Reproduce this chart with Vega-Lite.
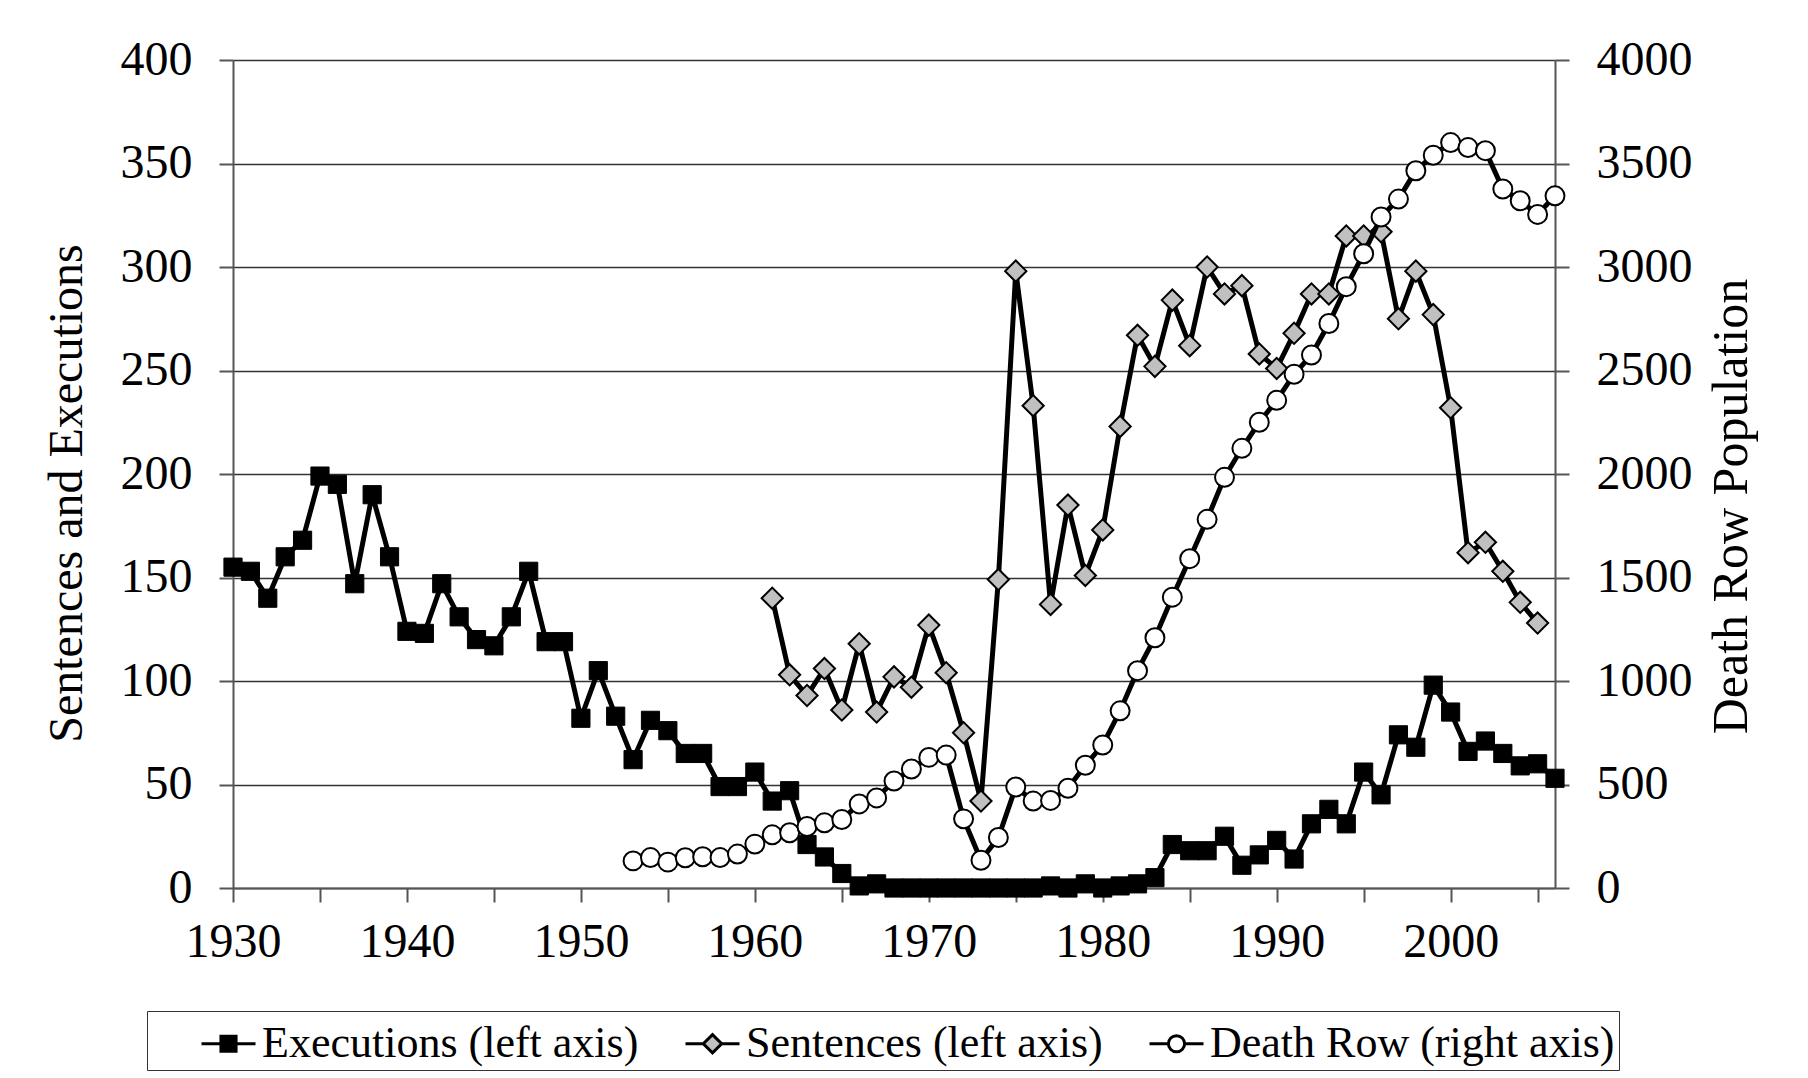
{
  "$schema": "https://vega.github.io/schema/vega-lite/v6.json",
  "width": 1322,
  "height": 828,
  "autosize": {"type": "none"},
  "padding": {"left": 233, "top": 60, "right": 253, "bottom": 190},
  "background": "white",
  "config": {
    "font": "Liberation Serif",
    "view": {"stroke": null},
    "axis": {"labelFont": "Liberation Serif", "titleFont": "Liberation Serif", "labelColor": "black", "titleColor": "black", "titleFontWeight": "normal", "labelFontSize": 48, "titleFontSize": 48, "domainColor": "#555555", "domainWidth": 2, "tickColor": "#555555", "tickWidth": 2, "tickSize": 14}
  },
  "data": {"values": [
    {"year":1930,"series":"Executions","value":155},{"year":1931,"series":"Executions","value":153},{"year":1932,"series":"Executions","value":140},{"year":1933,"series":"Executions","value":160},{"year":1934,"series":"Executions","value":168},{"year":1935,"series":"Executions","value":199},{"year":1936,"series":"Executions","value":195},{"year":1937,"series":"Executions","value":147},{"year":1938,"series":"Executions","value":190},{"year":1939,"series":"Executions","value":160},
    {"year":1940,"series":"Executions","value":124},{"year":1941,"series":"Executions","value":123},{"year":1942,"series":"Executions","value":147},{"year":1943,"series":"Executions","value":131},{"year":1944,"series":"Executions","value":120},{"year":1945,"series":"Executions","value":117},{"year":1946,"series":"Executions","value":131},{"year":1947,"series":"Executions","value":153},{"year":1948,"series":"Executions","value":119},{"year":1949,"series":"Executions","value":119},
    {"year":1950,"series":"Executions","value":82},{"year":1951,"series":"Executions","value":105},{"year":1952,"series":"Executions","value":83},{"year":1953,"series":"Executions","value":62},{"year":1954,"series":"Executions","value":81},{"year":1955,"series":"Executions","value":76},{"year":1956,"series":"Executions","value":65},{"year":1957,"series":"Executions","value":65},{"year":1958,"series":"Executions","value":49},{"year":1959,"series":"Executions","value":49},
    {"year":1960,"series":"Executions","value":56},{"year":1961,"series":"Executions","value":42},{"year":1962,"series":"Executions","value":47},{"year":1963,"series":"Executions","value":21},{"year":1964,"series":"Executions","value":15},{"year":1965,"series":"Executions","value":7},{"year":1966,"series":"Executions","value":1},{"year":1967,"series":"Executions","value":2},{"year":1968,"series":"Executions","value":0},{"year":1969,"series":"Executions","value":0},
    {"year":1970,"series":"Executions","value":0},{"year":1971,"series":"Executions","value":0},{"year":1972,"series":"Executions","value":0},{"year":1973,"series":"Executions","value":0},{"year":1974,"series":"Executions","value":0},{"year":1975,"series":"Executions","value":0},{"year":1976,"series":"Executions","value":0},{"year":1977,"series":"Executions","value":1},{"year":1978,"series":"Executions","value":0},{"year":1979,"series":"Executions","value":2},
    {"year":1980,"series":"Executions","value":0},{"year":1981,"series":"Executions","value":1},{"year":1982,"series":"Executions","value":2},{"year":1983,"series":"Executions","value":5},{"year":1984,"series":"Executions","value":21},{"year":1985,"series":"Executions","value":18},{"year":1986,"series":"Executions","value":18},{"year":1987,"series":"Executions","value":25},{"year":1988,"series":"Executions","value":11},{"year":1989,"series":"Executions","value":16},
    {"year":1990,"series":"Executions","value":23},{"year":1991,"series":"Executions","value":14},{"year":1992,"series":"Executions","value":31},{"year":1993,"series":"Executions","value":38},{"year":1994,"series":"Executions","value":31},{"year":1995,"series":"Executions","value":56},{"year":1996,"series":"Executions","value":45},{"year":1997,"series":"Executions","value":74},{"year":1998,"series":"Executions","value":68},{"year":1999,"series":"Executions","value":98},
    {"year":2000,"series":"Executions","value":85},{"year":2001,"series":"Executions","value":66},{"year":2002,"series":"Executions","value":71},{"year":2003,"series":"Executions","value":65},{"year":2004,"series":"Executions","value":59},{"year":2005,"series":"Executions","value":60},{"year":2006,"series":"Executions","value":53},
    {"year":1961,"series":"Sentences","value":140},{"year":1962,"series":"Sentences","value":103},{"year":1963,"series":"Sentences","value":93},{"year":1964,"series":"Sentences","value":106},{"year":1965,"series":"Sentences","value":86},{"year":1966,"series":"Sentences","value":118},{"year":1967,"series":"Sentences","value":85},{"year":1968,"series":"Sentences","value":102},{"year":1969,"series":"Sentences","value":97},
    {"year":1970,"series":"Sentences","value":127},{"year":1971,"series":"Sentences","value":104},{"year":1972,"series":"Sentences","value":75},{"year":1973,"series":"Sentences","value":42},{"year":1974,"series":"Sentences","value":149},{"year":1975,"series":"Sentences","value":298},{"year":1976,"series":"Sentences","value":233},{"year":1977,"series":"Sentences","value":137},{"year":1978,"series":"Sentences","value":185},{"year":1979,"series":"Sentences","value":151},
    {"year":1980,"series":"Sentences","value":173},{"year":1981,"series":"Sentences","value":223},{"year":1982,"series":"Sentences","value":267},{"year":1983,"series":"Sentences","value":252},{"year":1984,"series":"Sentences","value":284},{"year":1985,"series":"Sentences","value":262},{"year":1986,"series":"Sentences","value":300},{"year":1987,"series":"Sentences","value":287},{"year":1988,"series":"Sentences","value":291},{"year":1989,"series":"Sentences","value":258},
    {"year":1990,"series":"Sentences","value":251},{"year":1991,"series":"Sentences","value":268},{"year":1992,"series":"Sentences","value":287},{"year":1993,"series":"Sentences","value":287},{"year":1994,"series":"Sentences","value":315},{"year":1995,"series":"Sentences","value":315},{"year":1996,"series":"Sentences","value":317},{"year":1997,"series":"Sentences","value":275},{"year":1998,"series":"Sentences","value":298},{"year":1999,"series":"Sentences","value":277},
    {"year":2000,"series":"Sentences","value":232},{"year":2001,"series":"Sentences","value":162},{"year":2002,"series":"Sentences","value":167},{"year":2003,"series":"Sentences","value":153},{"year":2004,"series":"Sentences","value":138},{"year":2005,"series":"Sentences","value":128},
    {"year":1953,"series":"Death Row","value":131},{"year":1954,"series":"Death Row","value":147},{"year":1955,"series":"Death Row","value":125},{"year":1956,"series":"Death Row","value":146},{"year":1957,"series":"Death Row","value":151},{"year":1958,"series":"Death Row","value":147},{"year":1959,"series":"Death Row","value":164},
    {"year":1960,"series":"Death Row","value":212},{"year":1961,"series":"Death Row","value":257},{"year":1962,"series":"Death Row","value":267},{"year":1963,"series":"Death Row","value":297},{"year":1964,"series":"Death Row","value":315},{"year":1965,"series":"Death Row","value":331},{"year":1966,"series":"Death Row","value":406},{"year":1967,"series":"Death Row","value":435},{"year":1968,"series":"Death Row","value":517},{"year":1969,"series":"Death Row","value":575},
    {"year":1970,"series":"Death Row","value":631},{"year":1971,"series":"Death Row","value":642},{"year":1972,"series":"Death Row","value":334},{"year":1973,"series":"Death Row","value":134},{"year":1974,"series":"Death Row","value":244},{"year":1975,"series":"Death Row","value":488},{"year":1976,"series":"Death Row","value":420},{"year":1977,"series":"Death Row","value":423},{"year":1978,"series":"Death Row","value":482},{"year":1979,"series":"Death Row","value":593},
    {"year":1980,"series":"Death Row","value":691},{"year":1981,"series":"Death Row","value":856},{"year":1982,"series":"Death Row","value":1050},{"year":1983,"series":"Death Row","value":1209},{"year":1984,"series":"Death Row","value":1405},{"year":1985,"series":"Death Row","value":1591},{"year":1986,"series":"Death Row","value":1781},{"year":1987,"series":"Death Row","value":1984},{"year":1988,"series":"Death Row","value":2124},{"year":1989,"series":"Death Row","value":2250},
    {"year":1990,"series":"Death Row","value":2356},{"year":1991,"series":"Death Row","value":2482},{"year":1992,"series":"Death Row","value":2575},{"year":1993,"series":"Death Row","value":2727},{"year":1994,"series":"Death Row","value":2905},{"year":1995,"series":"Death Row","value":3064},{"year":1996,"series":"Death Row","value":3242},{"year":1997,"series":"Death Row","value":3328},{"year":1998,"series":"Death Row","value":3465},{"year":1999,"series":"Death Row","value":3540},
    {"year":2000,"series":"Death Row","value":3601},{"year":2001,"series":"Death Row","value":3577},{"year":2002,"series":"Death Row","value":3562},{"year":2003,"series":"Death Row","value":3377},{"year":2004,"series":"Death Row","value":3320},{"year":2005,"series":"Death Row","value":3254},{"year":2006,"series":"Death Row","value":3344}
  ]},
  "encoding": {
    "x": {
      "field": "year", "type": "quantitative",
      "scale": {"domain": [1930, 2006], "nice": false, "zero": false},
      "axis": {
        "title": null, "grid": false,
        "values": [1930,1935,1940,1945,1950,1955,1960,1965,1970,1975,1980,1985,1990,1995,2000,2005],
        "format": "d",
        "labelExpr": "datum.value % 10 === 0 ? datum.label : ''",
        "labelBaseline": "alphabetic", "labelPadding": 54,
        "labelOverlap": false, "labelFlush": false
      }
    }
  },
  "layer": [
    {
      "transform": [{"filter": "datum.series !== 'Death Row'"}],
      "encoding": {
        "y": {
          "field": "value", "type": "quantitative",
          "scale": {"domain": [0, 400], "nice": false},
          "axis": {
            "orient": "left",
            "values": [0,50,100,150,200,250,300,350,400],
            "format": "d",
            "title": "Sentences and Executions",
            "titleAngle": 270, "titleAlign": "center", "titleBaseline": "alphabetic",
            "titleX": -152, "titleY": 433,
            "labelPadding": 27,
            "grid": true, "gridColor": "#333333", "gridWidth": 1.3
          }
        }
      },
      "layer": [
        {"transform": [{"filter": "datum.series === 'Executions'"}], "mark": {"type": "line", "color": "black", "strokeWidth": 5}},
        {"transform": [{"filter": "datum.series === 'Executions'"}], "mark": {"type": "point", "shape": "square", "filled": true, "fill": "black", "stroke": "black", "strokeWidth": 1, "size": 330, "opacity": 1}},
        {"transform": [{"filter": "datum.series === 'Sentences'"}], "mark": {"type": "line", "color": "black", "strokeWidth": 5}},
        {"transform": [{"filter": "datum.series === 'Sentences'"}], "mark": {"type": "point", "shape": "diamond", "filled": true, "fill": "#c0c0c0", "stroke": "black", "strokeWidth": 2, "size": 450, "opacity": 1}}
      ]
    },
    {
      "transform": [{"filter": "datum.series === 'Death Row'"}],
      "encoding": {
        "y": {
          "field": "value", "type": "quantitative",
          "scale": {"domain": [0, 4000], "nice": false},
          "axis": {
            "orient": "right",
            "values": [0,500,1000,1500,2000,2500,3000,3500,4000],
            "format": "d",
            "title": "Death Row Population",
            "titleFontSize": 50,
            "titleAngle": 270, "titleAlign": "center", "titleBaseline": "alphabetic",
            "titleX": 191, "titleY": 446,
            "labelPadding": 27,
            "grid": false
          }
        }
      },
      "layer": [
        {"mark": {"type": "line", "color": "black", "strokeWidth": 5}},
        {"mark": {"type": "point", "shape": "circle", "filled": true, "fill": "white", "stroke": "black", "strokeWidth": 2, "size": 360, "opacity": 1}}
      ]
    },
    {
      "mark": {"type": "point", "filled": true, "opacity": 0, "stroke": "black", "strokeWidth": 3},
      "encoding": {
        "shape": {
          "field": "series", "type": "nominal",
          "scale": {
            "domain": ["Executions", "Sentences", "Death Row"],
            "range": [
              "M-1,0H1M-0.28,-0.28H0.28V0.28H-0.28Z",
              "M-1,0H-0.34M0.34,0H1M0,-0.34L0.34,0L0,0.34L-0.34,0Z",
              "M-1,0H-0.3M0.3,0H1M-0.3,0A0.3,0.3,0,1,0,0.3,0A0.3,0.3,0,1,0,-0.3,0Z"
            ]
          },
          "legend": {
            "title": "xx", "titleOrient": "left", "titleFontSize": 44, "titleFont": "Liberation Serif", "titleFontWeight": "normal", "titleColor": "rgba(0,0,0,0)", "titlePadding": 5,
            "orient": "none", "legendX": -86, "legendY": 951, "direction": "horizontal",
            "symbolSize": 2916, "symbolStrokeWidth": 3, "symbolOpacity": 1,
            "labelFont": "Liberation Serif", "labelFontSize": 44, "labelColor": "black", "labelLimit": 1000, "labelOffset": 5,
            "labelExpr": "datum.label === 'Death Row' ? 'Death Row (right axis)' : datum.label + ' (left axis)'",
            "columnPadding": 40, "padding": 4, "strokeColor": "#333333", "fillColor": "white"
          }
        },
        "fill": {
          "field": "series", "type": "nominal",
          "scale": {"domain": ["Executions", "Sentences", "Death Row"], "range": ["black", "#c0c0c0", "white"]},
          "legend": {
            "title": "xx", "titleOrient": "left", "titleFontSize": 44, "titleFont": "Liberation Serif", "titleFontWeight": "normal", "titleColor": "rgba(0,0,0,0)", "titlePadding": 5,
            "orient": "none", "legendX": -86, "legendY": 951, "direction": "horizontal",
            "symbolSize": 2916, "symbolStrokeWidth": 3, "symbolOpacity": 1,
            "labelFont": "Liberation Serif", "labelFontSize": 44, "labelColor": "black", "labelLimit": 1000, "labelOffset": 5,
            "labelExpr": "datum.label === 'Death Row' ? 'Death Row (right axis)' : datum.label + ' (left axis)'",
            "columnPadding": 40, "padding": 4, "strokeColor": "#333333", "fillColor": "white"
          }
        }
      }
    }
  ],
  "resolve": {"scale": {"y": "independent"}, "axis": {"y": "independent"}}
}
